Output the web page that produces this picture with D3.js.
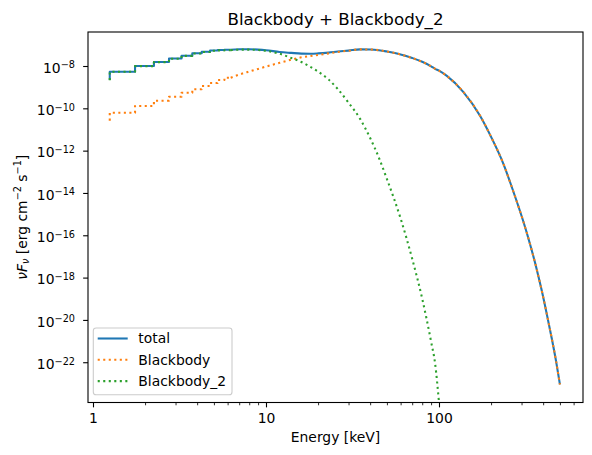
<!DOCTYPE html>
<html>
<head>
<meta charset="utf-8">
<script src="https://cdn.jsdelivr.net/npm/d3@7"></script>
<style>
  body { margin: 0; background: #fff; }
  text { font-family: "DejaVu Sans", sans-serif; fill: #000; }
</style>
</head>
<body>
<div class="chart"></div>
<script>
// low-energy part: constant levels in 0.5 keV bins
const binEdges = [1.25, 1.75, 2.25, 2.75, 3.25, 3.75, 4.25, 4.75, 5.25, 5.75, 6.25];
const totalFirst = 2.18e-9;
const bbFirst = 2.60e-11;
const bb2First = 2.15e-9;
const totalBins = [5.38e-9, 1.00e-8, 1.55e-8, 2.26e-8, 3.07e-8, 3.98e-8, 4.74e-8, 5.41e-8, 5.70e-8, 5.89e-8];
const bbBins = [6.21e-11, 1.29e-10, 2.29e-10, 3.54e-10, 5.47e-10, 7.92e-10, 1.135e-9, 1.57e-9, 2.18e-9, 2.80e-9];
const bb2Bins = [5.32e-9, 9.90e-9, 1.53e-8, 2.22e-8, 3.02e-8, 3.90e-8, 4.63e-8, 5.25e-8, 5.48e-8, 5.60e-8];

// smooth part
const energy = [7, 8, 9, 10, 12, 14, 16, 18, 20, 23, 26, 30, 35, 40, 45, 50, 60, 70, 80, 90, 95, 100,
                111, 138, 173, 202, 235, 269, 307, 336, 367, 392, 419, 448, 475, 500];
const totalFlux = [6.15e-8, 6.15e-8, 5.96e-8, 5.58e-8, 4.59e-8, 4.16e-8, 3.85e-8, 3.81e-8, 3.94e-8, 4.30e-8,
                   4.80e-8, 5.35e-8, 6.10e-8, 6.03e-8, 5.58e-8, 4.84e-8, 3.53e-8, 2.39e-8, 1.58e-8, 9.68e-9,
                   7.38e-9, 6.03e-9, 3.39e-9, 6.03e-10, 4.37e-11, 3.80e-12, 2.51e-13, 1.17e-14, 4.57e-16,
                   3.80e-17, 2.51e-18, 2.57e-19, 2.04e-20, 1.41e-21, 1.12e-22, 8.91e-24];
const bbFlux = [3.93e-9, 5.50e-9, 7.29e-9, 9.38e-9, 1.42e-8, 1.99e-8, 2.58e-8, 2.97e-8, 3.35e-8, 3.94e-8,
                4.59e-8, 5.28e-8, 6.09e-8, 6.03e-8, 5.58e-8, 4.84e-8, 3.53e-8, 2.39e-8, 1.58e-8, 9.68e-9,
                7.38e-9, 6.03e-9, 3.39e-9, 6.03e-10, 4.37e-11, 3.80e-12, 2.51e-13, 1.17e-14, 4.57e-16,
                3.80e-17, 2.51e-18, 2.57e-19, 2.04e-20, 1.41e-21, 1.12e-22, 8.91e-24];
const bb2Flux = [5.89e-8, 5.96e-8, 5.70e-8, 5.22e-8, 3.78e-8, 2.39e-8, 1.55e-8, 9.27e-9, 5.43e-9, 2.30e-9,
                 8.18e-10, 1.86e-10, 3.16e-11, 3.95e-12, 4.49e-13, 4.57e-14, 6.21e-16, 7.73e-18, 9.95e-20,
                 9.44e-22, 8.36e-23, 1.26e-24, null, null, null, null, null, null, null, null, null, null,
                 null, null, null, null];

const xTickValues = [1, 10, 100];
const xMinorValues = [2, 3, 4, 5, 6, 7, 8, 9, 20, 30, 40, 50, 60, 70, 80, 90, 200, 300, 400, 500, 600];
const yTickExponents = [-8, -10, -12, -14, -16, -18, -20, -22];

const series = [
  {name: 'total', first: totalFirst, bins: totalBins, flux: totalFlux, color: '#1f77b4', dash: null},
  {name: 'Blackbody', first: bbFirst, bins: bbBins, flux: bbFlux, color: '#ff7f0e', dash: '2.08,3.44'},
  {name: 'Blackbody_2', first: bb2First, bins: bb2Bins, flux: bb2Flux, color: '#2ca02c', dash: '2.08,3.44'}
];

// staircase points from the bins
function stepPoints(s){
  const pts = [[binEdges[0], s.first]];
  s.bins.forEach((v, i) => {
    pts.push([binEdges[i], v]);
    pts.push([binEdges[i + 1], v]);
  });
  return pts;
}
// smooth samples, starting where the staircase ends
function smoothPoints(s){
  const pts = [[binEdges[binEdges.length - 1], s.bins[s.bins.length - 1]]];
  energy.forEach((e, i) => {
    if (s.flux[i] != null) pts.push([e, s.flux[i]]);
  });
  return pts;
}

const W = 592, H = 455;
const margin = {top: 32, left: 88};
const width = 495, height = 370.5;
const tickMajor = 4.86, tickMinor = 2.78;

const svg = d3.select('.chart').append('svg')
  .attr('width', W)
  .attr('height', H);

const g = svg.append('g')
  .attr('transform', `translate(${margin.left},${margin.top})`);

const x = d3.scaleLog().domain([0.9357, 679.8]).range([0, width]);
const y = d3.scaleLog().domain([Math.pow(10, -23.903), Math.pow(10, -6.393)]).range([height, 0]);

g.append('clipPath').attr('id', 'clip')
  .append('rect').attr('width', width).attr('height', height);

const stepLine = d3.line()
  .x(d => x(d[0]))
  .y(d => y(d[1]));
const smoothLine = d3.line()
  .x(d => x(d[0]))
  .y(d => y(d[1]))
  .curve(d3.curveMonotoneX);

const lines = g.append('g').attr('clip-path', 'url(#clip)')
  .selectAll('g')
  .data(series)
  .enter()
  .append('g')
  .attr('fill', 'none')
  .attr('stroke', d => d.color)
  .attr('stroke-width', 2.08)
  .attr('stroke-dasharray', d => d.dash)
  .attr('stroke-linejoin', 'round');
lines.append('path').attr('d', d => stepLine(stepPoints(d)));
lines.append('path').attr('d', d => smoothLine(smoothPoints(d)));

// x axis
const xAxis = d3.axisBottom(x).tickValues(xTickValues).tickFormat(d3.format('d'))
  .tickSizeInner(tickMajor).tickSizeOuter(0).tickPadding(3.5);
const xAxisDraw = g.append('g').attr('transform', `translate(0,${height})`).call(xAxis);
const xMinor = d3.axisBottom(x).tickValues(xMinorValues).tickFormat('')
  .tickSizeInner(tickMinor).tickSizeOuter(0);
const xMinorDraw = g.append('g').attr('transform', `translate(0,${height})`).call(xMinor);
xMinorDraw.selectAll('line').attr('stroke-width', 0.83);

// y axis
const yAxis = d3.axisLeft(y).tickValues(yTickExponents.map(e => Math.pow(10, e))).tickFormat('')
  .tickSizeInner(tickMajor).tickSizeOuter(0);
const yAxisDraw = g.append('g').call(yAxis);

[xAxisDraw, yAxisDraw, xMinorDraw].forEach(a => {
  a.select('.domain').remove();
  a.selectAll('line').attr('stroke', '#000');
});
xAxisDraw.selectAll('line').attr('stroke-width', 1.1);
yAxisDraw.selectAll('line').attr('stroke-width', 1.1);
xAxisDraw.selectAll('text')
  .attr('font-size', 13.9)
  .attr('font-family', 'DejaVu Sans')
  .attr('fill', '#000')
  .attr('dy', null)
  .attr('y', 423.3 - 402.5);

// y tick labels with superscript exponent
const yLabels = g.append('g');
yTickExponents.forEach(e => {
  const t = yLabels.append('text')
    .attr('x', -13)
    .attr('y', y(Math.pow(10, e)) + 6.7)
    .attr('text-anchor', 'end')
    .attr('font-size', 13.9);
  t.append('tspan').text('10');
  t.append('tspan').text('\u2212' + (-e)).attr('font-size', 9.7).attr('dy', -4.3);
});

// spines
g.append('rect')
  .attr('width', width).attr('height', height)
  .attr('fill', 'none').attr('stroke', '#000').attr('stroke-width', 1.1);

// title and labels
svg.append('text')
  .attr('x', margin.left + width / 2).attr('y', 24.5)
  .attr('text-anchor', 'middle').attr('font-size', 16.67)
  .text('Blackbody + Blackbody_2');

svg.append('text')
  .attr('x', margin.left + width / 2).attr('y', 442)
  .attr('text-anchor', 'middle').attr('font-size', 13.9)
  .text('Energy [keV]');

const yl = svg.append('text')
  .attr('transform', `translate(26.5,${margin.top + height / 2}) rotate(-90)`)
  .attr('text-anchor', 'middle').attr('font-size', 13.9);
yl.append('tspan').text('\u03bdF').attr('font-style', 'italic');
yl.append('tspan').text('\u03bd').attr('font-style', 'italic').attr('font-size', 9.7).attr('dy', 2.6);
yl.append('tspan').text(' [erg cm').attr('dy', -2.6);
yl.append('tspan').text('\u22122').attr('font-size', 9.7).attr('dy', -5.2);
yl.append('tspan').text(' s').attr('dy', 5.2);
yl.append('tspan').text('\u22121').attr('font-size', 9.7).attr('dy', -5.2);
yl.append('tspan').text(']').attr('dy', 5.2);

// legend
const legend = svg.append('g');
legend.append('rect')
  .attr('x', 93.3).attr('y', 328).attr('width', 138.7).attr('height', 66.7)
  .attr('rx', 2.8)
  .attr('fill', '#fff').attr('fill-opacity', 0.8)
  .attr('stroke', '#cccccc').attr('stroke-width', 1.1);
const rows = legend.selectAll('.row')
  .data(series)
  .enter()
  .append('g')
  .attr('class', 'row')
  .attr('transform', (d, i) => `translate(0,${338.5 + i * 21.3})`);
rows.append('line')
  .attr('x1', 97.7).attr('x2', 127.7)
  .attr('stroke', d => d.color)
  .attr('stroke-width', 2.08)
  .attr('stroke-dasharray', d => d.dash);
rows.append('text')
  .attr('x', 138.3).attr('y', 4.8)
  .attr('font-size', 13.9)
  .text(d => d.name);
</script>
</body>
</html>
